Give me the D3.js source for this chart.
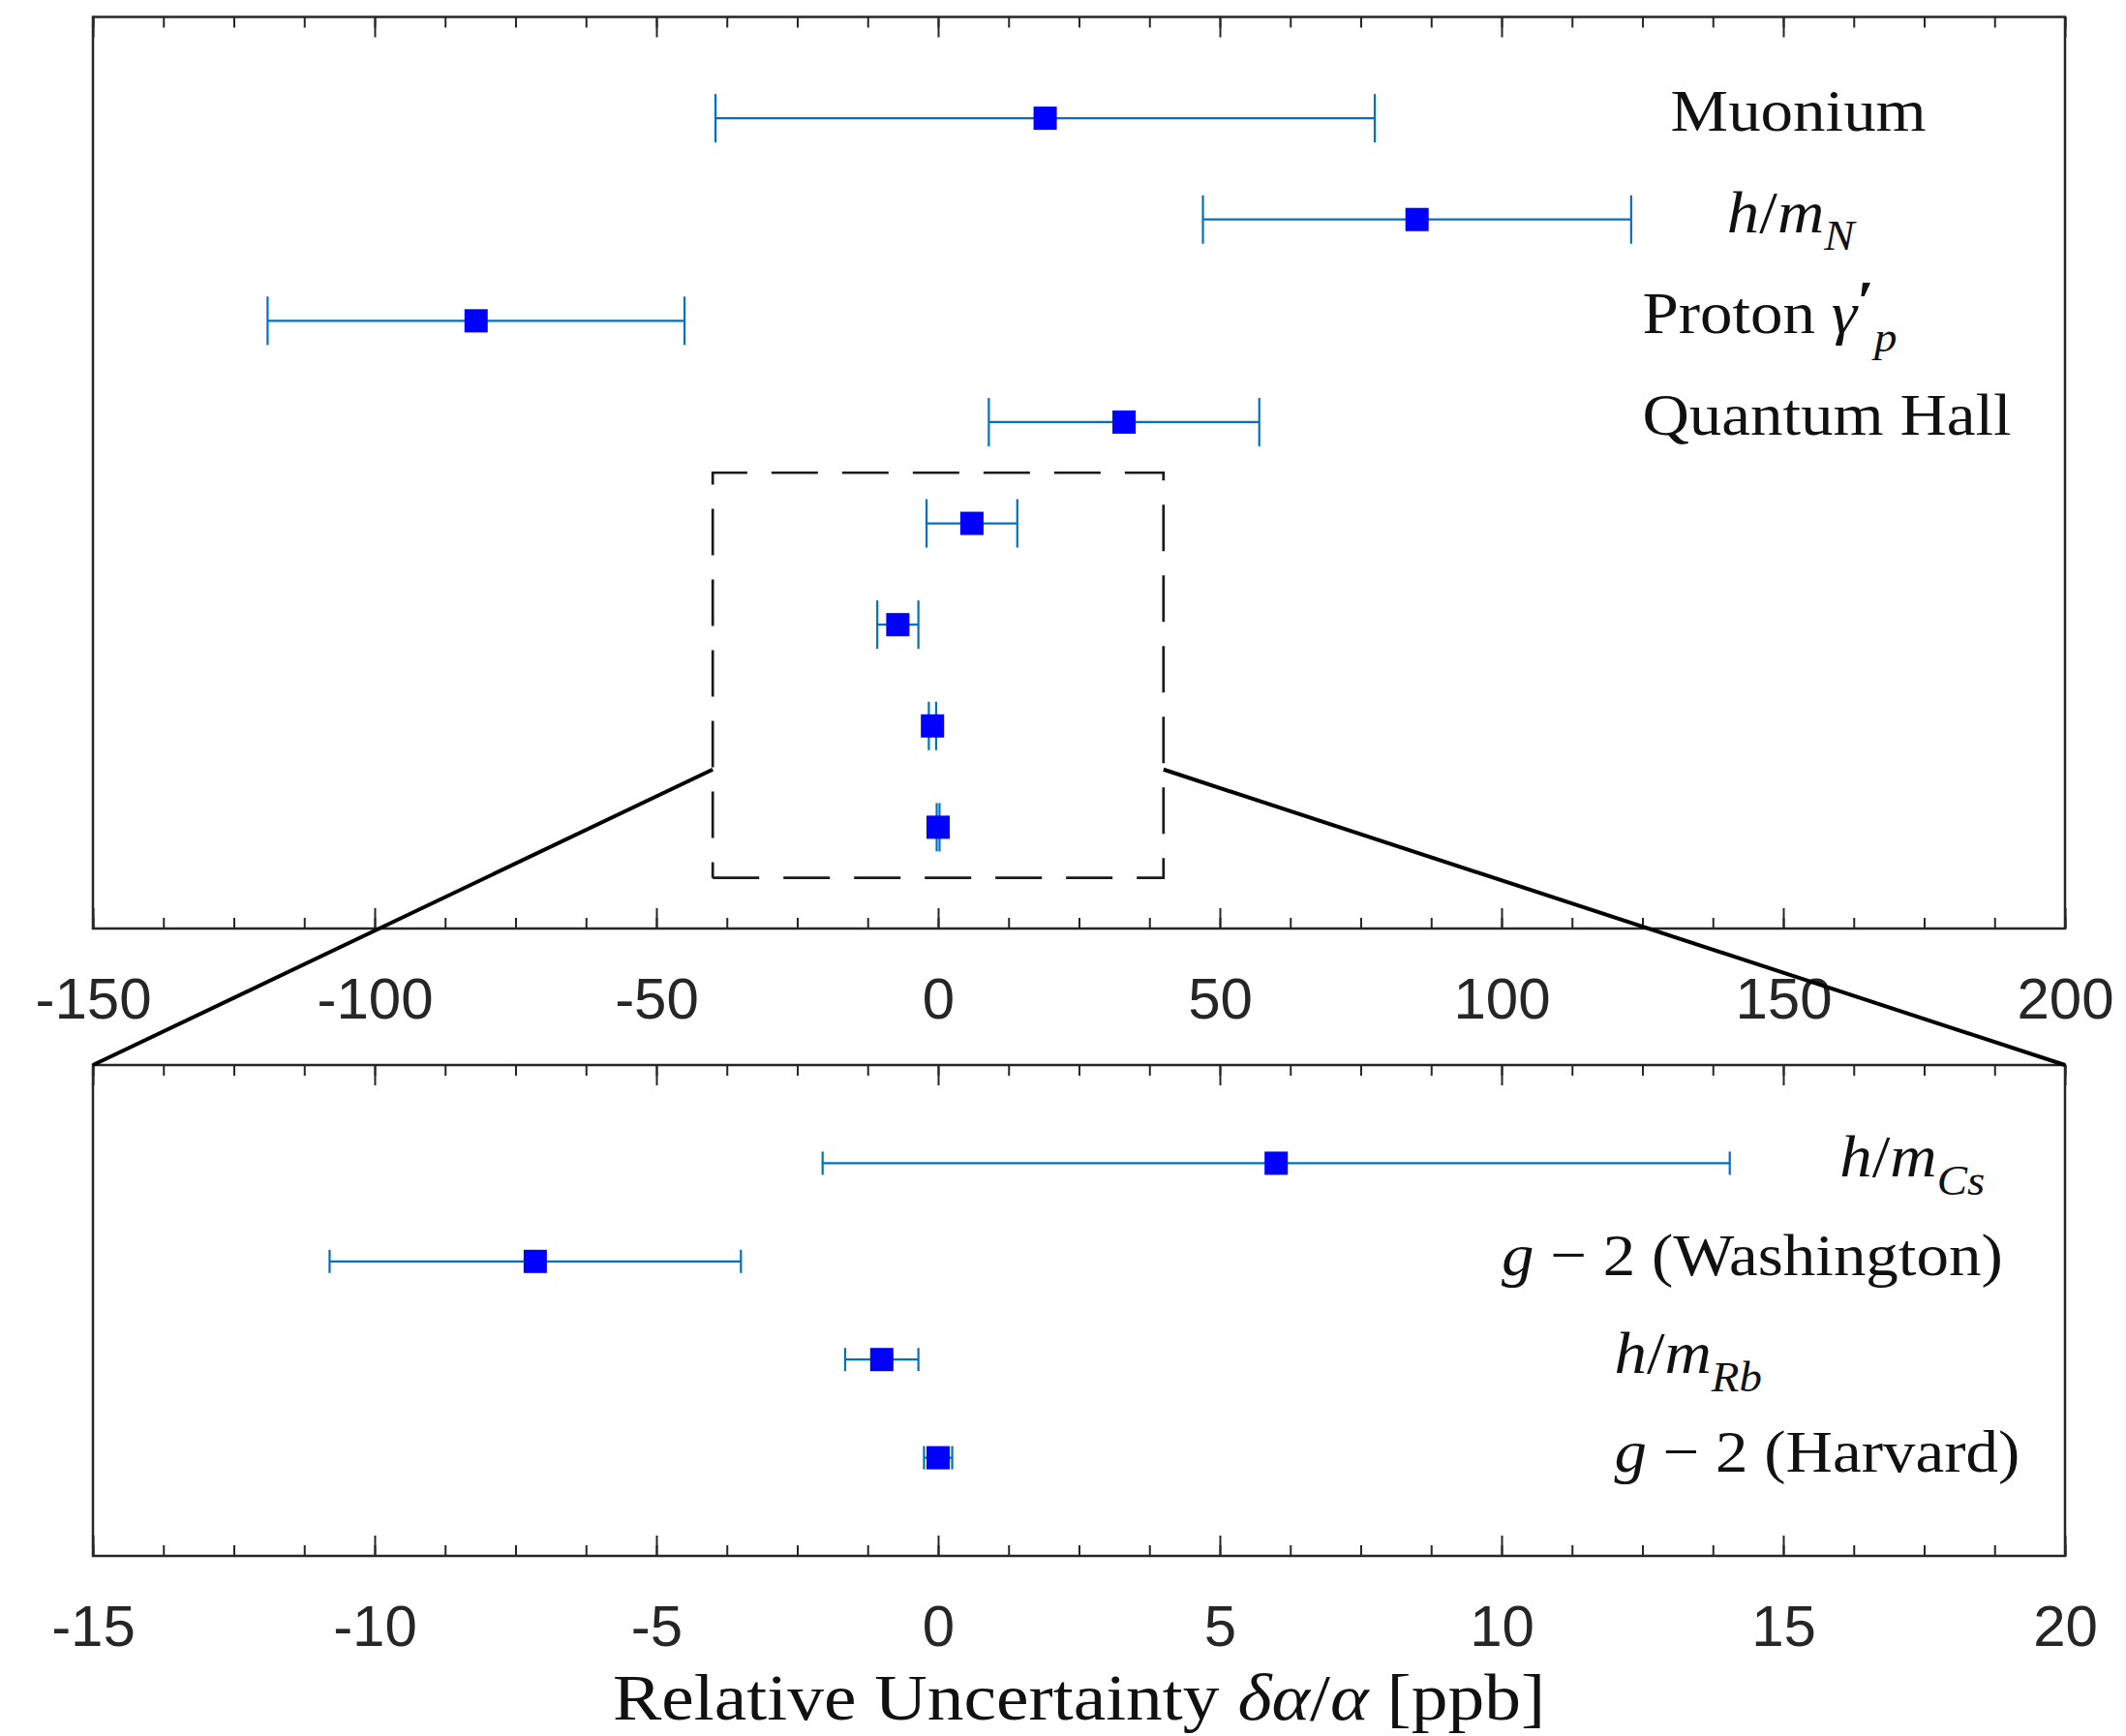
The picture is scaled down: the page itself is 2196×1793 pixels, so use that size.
<!DOCTYPE html>
<html>
<head>
<meta charset="utf-8">
<script src="https://cdn.jsdelivr.net/npm/d3@7"></script>
<style>
  body { margin: 0; background: #fff; }
</style>
</head>
<body>
<div id="chart"></div>
<script>
// determinations of alpha, top to bottom, offset in ppb
var experiments = ['Muonium', 'h/m_N', 'Proton', 'Quantum Hall', 'h/m_Cs', 'g-2 Washington', 'h/m_Rb', 'g-2 Harvard'];
var values = [19, 85, -82, 33, 6.0, -7.15, -1.0, 0.0];
var errors = [58.5, 38, 37, 24, 8.05, 3.65, 0.65, 0.25];

var topTicks = [-150, -100, -50, 0, 50, 100, 150, 200];
var bottomTicks = [-15, -10, -5, 0, 5, 10, 15, 20];

// labels as [text, kind] pieces, and the x value where each one starts
var topLabels = [
  [['Muonium', 'r']],
  [['h', 'i'], ['/', 'r'], ['m', 'i'], ['N', 'sub']],
  [['Proton ', 'r'], ['\u03b3', 'i'], ['\u2032', 'sup'], ['p', 'sub']],
  [['Quantum Hall', 'r']]
];
var topLabelX = [130, 140, 125, 125];

var bottomLabels = [
  [['h', 'i'], ['/', 'r'], ['m', 'i'], ['Cs', 'sub']],
  [['g', 'i'], [' \u2212 2 (Washington)', 'r']],
  [['h', 'i'], ['/', 'r'], ['m', 'i'], ['Rb', 'sub']],
  [['g', 'i'], [' \u2212 2 (Harvard)', 'r']]
];
var bottomLabelX = [16, 10, 12, 12];

var xTitle = [['Relative Uncertainty ', 'r'], ['\u03b4\u03b1', 'i'], ['/', 'r'], ['\u03b1', 'i'], [' [ppb]', 'r']];

// zoomed region in the top panel: x from, x to, row from, row to
var zoomBox = [-40, 40, 4.5, 8.5];
var connectorRow = 7.43;

var W = 2196, H = 1793;
var barColor = '#0072BD', markColor = '#0000ff', axisColor = '#262626';
var serif = '"Liberation Serif", "Times New Roman", serif';
var sans = '"Liberation Sans", Arial, sans-serif';

var svg = d3.select('#chart').append('svg')
    .attr('width', W)
    .attr('height', H)
    .style('background', '#fff');

var xTop = d3.scaleLinear().domain([-150, 200]).range([96, 2133]);
var yTop = d3.scaleLinear().domain([0, 9]).range([17.5, 959]);
var xBot = d3.scaleLinear().domain([-15, 20]).range([96, 2133]);
var yBot = d3.scaleLinear().domain([0, 5]).range([1100, 1607]);

function drawAxes(g, x, y, ticks, minorStep) {
  var top = y.range()[0], bottom = y.range()[1];
  var minor = d3.range(ticks[0], ticks[ticks.length - 1] + minorStep / 2, minorStep);

  g.append('g')
      .attr('transform', 'translate(0,' + bottom + ')')
      .call(d3.axisBottom(x).tickValues(minor).tickSize(-11).tickSizeOuter(0).tickFormat(''));
  g.append('g')
      .attr('class', 'major')
      .attr('transform', 'translate(0,' + bottom + ')')
      .call(d3.axisBottom(x).tickValues(ticks).tickSize(-21).tickSizeOuter(0).tickPadding(50)
        .tickFormat(function(d) { return String(d); }));
  g.append('g')
      .attr('transform', 'translate(0,' + top + ')')
      .call(d3.axisTop(x).tickValues(minor).tickSize(-11).tickSizeOuter(0).tickFormat(''));
  g.append('g')
      .attr('transform', 'translate(0,' + top + ')')
      .call(d3.axisTop(x).tickValues(ticks).tickSize(-21).tickSizeOuter(0).tickFormat(''));

  g.selectAll('.domain').remove();
  g.selectAll('.tick line').attr('stroke', axisColor).attr('stroke-width', 2);
  g.selectAll('.major text')
      .attr('fill', axisColor)
      .style('font-family', sans)
      .style('font-size', '60px');

  g.append('rect')
      .attr('x', x.range()[0])
      .attr('y', top)
      .attr('width', x.range()[1] - x.range()[0])
      .attr('height', bottom - top)
      .attr('fill', 'none')
      .attr('stroke', axisColor)
      .attr('stroke-width', 2.5);
}

function drawBars(g, x, y, vals, errs, capHalf) {
  var rows = g.selectAll('g.row')
      .data(vals.map(function(v, i) { return { v: v, e: errs[i], row: i + 1 }; }))
    .enter().append('g')
      .attr('class', 'row');

  rows.append('line')
      .attr('x1', function(d) { return x(d.v - d.e); })
      .attr('x2', function(d) { return x(d.v + d.e); })
      .attr('y1', function(d) { return y(d.row); })
      .attr('y2', function(d) { return y(d.row); })
      .attr('stroke', barColor)
      .attr('stroke-width', 2.2);

  [-1, 1].forEach(function(s) {
    rows.append('line')
        .attr('x1', function(d) { return x(d.v + s * d.e); })
        .attr('x2', function(d) { return x(d.v + s * d.e); })
        .attr('y1', function(d) { return y(d.row) - capHalf; })
        .attr('y2', function(d) { return y(d.row) + capHalf; })
        .attr('stroke', barColor)
        .attr('stroke-width', 2.2);
  });

  rows.append('rect')
      .attr('x', function(d) { return x(d.v) - 12; })
      .attr('y', function(d) { return y(d.row) - 12; })
      .attr('width', 24)
      .attr('height', 24)
      .attr('fill', markColor);
}

// serif text with italic, sub and superscript pieces
function richText(g, parts, fs, x, y, anchor, stretch) {
  var t = g.append('text')
      .attr('transform', 'translate(' + x + ',' + y + ') scale(' + (stretch || 1.08) + ',1)')
      .attr('text-anchor', anchor || 'start')
      .style('font-family', serif)
      .style('font-size', fs + 'px')
      .attr('fill', '#111');
  var shift = 0;
  parts.forEach(function(p) {
    var s = t.append('tspan').text(p[0]);
    var want = 0;
    if (p[1] == 'i') s.style('font-style', 'italic');
    if (p[1] == 'sub') {
      want = 0.3 * fs;
      s.style('font-style', 'italic').style('font-size', (0.7 * fs) + 'px');
    }
    if (p[1] == 'sup') {
      want = -0.22 * fs;
      s.style('font-size', (0.95 * fs) + 'px').style('font-weight', 'bold');
    }
    if (want != shift) s.attr('dy', want - shift);
    shift = want;
  });
  return t;
}

// top panel
var gTop = svg.append('g');
drawAxes(gTop, xTop, yTop, topTicks, 12.5);

gTop.append('path')
    .attr('d', 'M' + xTop(zoomBox[0]) + ',' + yTop(zoomBox[3]) +
               'H' + xTop(zoomBox[1]) + 'V' + yTop(zoomBox[2]) +
               'H' + xTop(zoomBox[0]) + 'V' + yTop(zoomBox[3]))
    .attr('fill', 'none')
    .attr('stroke', '#1a1a1a')
    .attr('stroke-width', 2.7)
    .attr('stroke-dasharray', '48,25');

drawBars(gTop, xTop, yTop, values, errors, 25);

topLabels.forEach(function(parts, i) {
  richText(gTop, parts, 62, xTop(topLabelX[i]), yTop(i + 1) + 13);
});

// bottom panel: the four most precise ones
var gBot = svg.append('g');
drawAxes(gBot, xBot, yBot, bottomTicks, 1.25);
drawBars(gBot, xBot, yBot, values.slice(4), errors.slice(4), 12);

bottomLabels.forEach(function(parts, i) {
  richText(gBot, parts, 62, xBot(bottomLabelX[i]), yBot(i + 1) + 14);
});

richText(svg, xTitle, 68, (xBot.range()[0] + xBot.range()[1]) / 2, 1776, 'middle', 1.11);

// connector lines from the dashed box down to the lower axes
[[zoomBox[0], -15], [zoomBox[1], 20]].forEach(function(c) {
  svg.append('line')
      .attr('x1', xTop(c[0]))
      .attr('y1', yTop(connectorRow))
      .attr('x2', xBot(c[1]))
      .attr('y2', yBot.range()[0])
      .attr('stroke', '#000')
      .attr('stroke-width', 4);
});
</script>
</body>
</html>
